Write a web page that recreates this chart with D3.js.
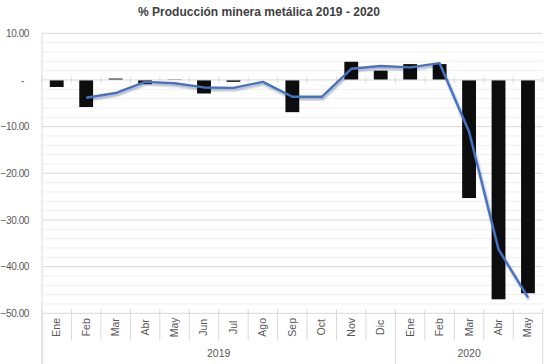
<!DOCTYPE html>
<html>
<head>
<meta charset="utf-8">
<script src="https://cdn.jsdelivr.net/npm/d3@7"></script>
<style>
  body { margin: 0; background: #fff; }
  svg { display: block; font-family: "Liberation Sans Narrow", "Arial Narrow", "Liberation Sans", sans-serif; }
</style>
</head>
<body>
<svg class="chart"></svg>
<script>
const width = 551,
      height = 364,
      margin = { top: 33.3, right: 8.3, bottom: 50.7, left: 42 }

// data
const months = ["Ene", "Feb", "Mar", "Abr", "May", "Jun", "Jul", "Ago", "Sep", "Oct", "Nov", "Dic",
                "Ene", "Feb", "Mar", "Abr", "May"]
const years = ["2019", "2019", "2019", "2019", "2019", "2019", "2019", "2019", "2019", "2019", "2019", "2019",
               "2020", "2020", "2020", "2020", "2020"]
const monthly = [-1.5, -5.8, 0.3, -0.9, 0.1, -2.9, -0.4, 0.0, -6.9, 0.0, 3.9, 2.0,
                 3.4, 3.4, -25.3, -47.0, -45.7]
const accumulated = [null, -3.8, -2.8, -0.4, -0.7, -1.6, -1.7, -0.4, -3.6, -3.6, 2.4, 3.0,
                     2.7, 3.6, -11.1, -36.3, -46.6]
const yTicks = [10, 0, -10, -20, -30, -40, -50]

const data = months.map((m, i) => ({ key: i, month: m, year: years[i], bar: monthly[i], line: accumulated[i] }))

const chart = d3.select(".chart")
    .attr("width", width)
    .attr("height", height)

const x = d3.scaleBand()
    .domain(data.map(d => d.key))
    .range([margin.left, width - margin.right])
    .paddingInner(0.53)
    .paddingOuter(0.265)

const xb = d3.scaleBand()
    .domain(data.map(d => d.key))
    .range([margin.left, width - margin.right])

const y = d3.scaleLinear()
    .domain([-50, 10])
    .range([height - margin.bottom, margin.top])

const defs = chart.append("defs")
const shadow = defs.append("filter").attr("id", "shadow")
    .attr("x", "-10%").attr("y", "-10%").attr("width", "130%").attr("height", "130%")
shadow.append("feGaussianBlur").attr("in", "SourceAlpha").attr("stdDeviation", 1.2)
shadow.append("feOffset").attr("dx", 1).attr("dy", 1.5).attr("result", "b")
shadow.append("feComponentTransfer").append("feFuncA").attr("type", "linear").attr("slope", 0.35)
const merge = shadow.append("feMerge")
merge.append("feMergeNode")
merge.append("feMergeNode").attr("in", "SourceGraphic")

// minor gridlines
chart.append("g")
    .selectAll("line")
    .data(d3.range(-50, 10.1, 2).filter(v => v % 10 !== 0))
    .enter().append("line")
      .attr("x1", margin.left).attr("x2", width - margin.right)
      .attr("y1", d => y(d)).attr("y2", d => y(d))
      .style("stroke", "#efefef").style("stroke-width", 1)

// major gridlines
chart.append("g")
    .selectAll("line")
    .data(yTicks.filter(v => v !== 0))
    .enter().append("line")
      .attr("x1", margin.left).attr("x2", width - margin.right)
      .attr("y1", d => y(d)).attr("y2", d => y(d))
      .style("stroke", "#d9d9d9").style("stroke-width", 1)

// y axis
const yAxis = chart.append("g")
    .attr("transform", `translate(${margin.left},0)`)
    .call(d3.axisLeft(y).tickValues(yTicks).tickSize(0).tickPadding(13)
      .tickFormat(d => d === 0 ? "-" : d3.format(".2f")(d)))
yAxis.select(".domain").remove()
yAxis.selectAll("text")
    .style("font-size", "10px")
    .style("letter-spacing", "-0.4px")
    .style("fill", "#595959")
yAxis.selectAll(".tick").filter(d => d === 0).select("text").attr("dx", -5)

chart.append("line")
    .attr("x1", margin.left).attr("x2", margin.left)
    .attr("y1", margin.top).attr("y2", height)
    .style("stroke", "#d9d9d9")

// bars
chart.append("g")
    .selectAll("rect")
    .data(data)
    .enter().append("rect")
      .attr("x", d => x(d.key))
      .attr("width", x.bandwidth())
      .attr("y", d => y(Math.max(0, d.bar)))
      .attr("height", d => Math.abs(y(d.bar) - y(0)))
      .style("fill", "#0d0d0d")

// zero axis with ticks
chart.append("line")
    .attr("x1", margin.left).attr("x2", width - margin.right)
    .attr("y1", y(0)).attr("y2", y(0))
    .style("stroke", "#d9d9d9")
chart.append("g")
    .selectAll("line")
    .data(data.map(d => d.key).concat([data.length]))
    .enter().append("line")
      .attr("x1", d => d < data.length ? xb(d) : width - margin.right)
      .attr("x2", d => d < data.length ? xb(d) : width - margin.right)
      .attr("y1", y(0) - 3).attr("y2", y(0) + 3)
      .style("stroke", "#d9d9d9")

// line
const line = d3.line()
    .defined(d => d.line !== null)
    .x(d => x(d.key) + x.bandwidth() / 2)
    .y(d => y(d.line))

chart.append("path")
    .datum(data)
    .attr("d", line)
    .attr("filter", "url(#shadow)")
    .style("fill", "none")
    .style("stroke", "#4472c4")
    .style("stroke-width", 2.4)
    .style("stroke-linejoin", "round")

// category labels
const bottom = height - margin.bottom
chart.append("g")
    .selectAll("line")
    .data(data.map(d => d.key).concat([data.length]))
    .enter().append("line")
      .attr("x1", d => d < data.length ? xb(d) : width - margin.right)
      .attr("x2", d => d < data.length ? xb(d) : width - margin.right)
      .attr("y1", bottom - 4)
      .attr("y2", d => (d === 0 || d === 12 || d === data.length) ? height : bottom + 27)
      .style("stroke", "#d9d9d9")

chart.append("g")
    .selectAll("text")
    .data(data)
    .enter().append("text")
      .attr("transform", d => `translate(${xb(d.key) + xb.bandwidth() / 2 + 3.5},${bottom + 14}) rotate(-90)`)
      .attr("text-anchor", "middle")
      .style("font-size", "10.5px")
      .style("fill", "#595959")
      .text(d => d.month)

const yearGroups = d3.groups(data, d => d.year)
chart.append("g")
    .selectAll("text")
    .data(yearGroups)
    .enter().append("text")
      .attr("x", d => (xb(d[1][0].key) + xb(d[1][d[1].length - 1].key) + xb.bandwidth()) / 2)
      .attr("y", height - 7)
      .attr("text-anchor", "middle")
      .style("font-size", "10.5px")
      .style("fill", "#595959")
      .text(d => d[0])

// title
chart.append("text")
    .attr("x", 259)
    .attr("y", 16)
    .attr("text-anchor", "middle")
    .attr("textLength", 242)
    .attr("lengthAdjust", "spacingAndGlyphs")
    .style("font-size", "13px")
    .style("font-weight", "bold")
    .style("fill", "#404040")
    .text("% Producción minera metálica 2019 - 2020")
</script>
</body>
</html>
